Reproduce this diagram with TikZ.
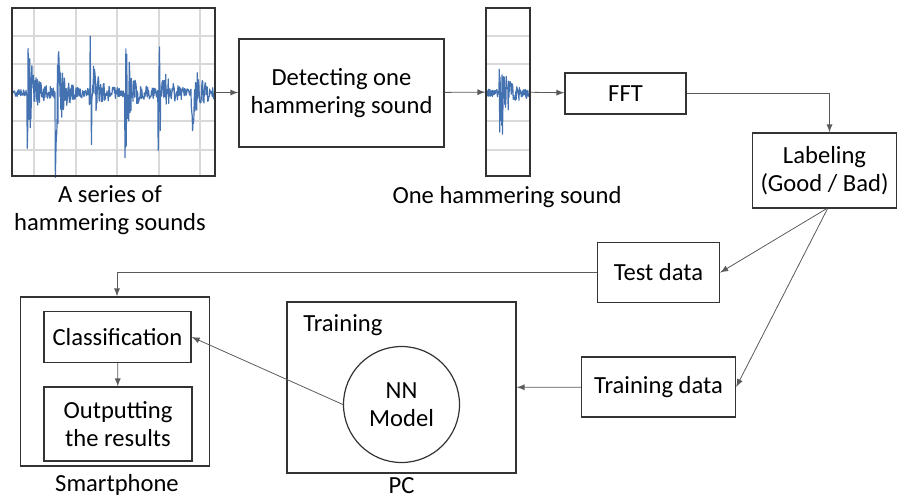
\documentclass[tikz,border=0pt]{standalone}
\usepackage{fontspec}
\setmainfont{Carlito}
\usepackage{tikz}
\usetikzlibrary{positioning, arrows, shapes}
\definecolor{wavecol}{RGB}{68,114,176}
\definecolor{gridcol}{RGB}{217,217,217}
\definecolor{linecol}{RGB}{90,90,90}

\tikzset{
  box/.style={draw=black!80, line width=0.7pt, rectangle, align=center, inner sep=0pt},
  lbl/.style={align=center, inner sep=0pt},
  conn/.style={draw=linecol, line width=0.4pt, ->, >=latex},
  wave/.style={draw=wavecol, line width=0.6pt, line join=round},
  grid line/.style={draw=gridcol, line width=0.6pt}
}

\begin{document}
\begin{tikzpicture}[x=0.5pt, y=-0.5pt, font=\fontsize{12.3}{14}\selectfont,
  declare function={burst(\x,\s,\a)=(\x>=\s)*(\a*exp(-abs(\x-\s)/3)+24*exp(-abs(\x-\s)/10));}]
\useasboundingbox (0,0) rectangle (898,500);

		% waveforms
		\foreach \gx in {34,76,117,159,200} \draw[grid line] (\gx,9) -- (\gx,175);
		\foreach \gy in {36,64,121,150} {
			\draw[grid line] (13,\gy) -- (214,\gy);
			\draw[grid line] (487,\gy) -- (529,\gy);
		}
		\pgfmathsetseed{11}
		\draw[wave] plot[domain=13:214, samples=480]
			(\x, {93 + rand*(4 + burst(\x,27,58) + burst(\x,55,70) + burst(\x,89,70)
			+ burst(\x,125,44) + burst(\x,158,44) + burst(\x,191,44))});
		\draw[wave] plot[domain=487:529, samples=110]
			(\x, {93 + rand*(4 + burst(\x,499,70))});
		\node[box, minimum width=101.5pt, minimum height=84pt] (w1) at (113.5,92) {};
		\node[box, minimum width=22pt, minimum height=84pt] (w2) at (508,92) {};

		% boxes
		\node[box, minimum width=102.5pt, minimum height=54pt] (detect) at (341.5,93) {Detecting one\\hammering sound};
		\node[box, minimum width=60.5pt, minimum height=20.5pt] (fft) at (625.5,93.5) {FFT};
		\node[box, minimum width=72pt, minimum height=37.5pt] (label) at (824.5,170.5) {Labeling\\(Good / Bad)};
		\node[box, minimum width=61pt, minimum height=30pt] (test) at (658.5,272.5) {Test data};
		\node[box, minimum width=77pt, minimum height=30pt] (train) at (658.5,387) {Training data};
		\node[box, minimum width=114.5pt, minimum height=85.5pt] (pc) at (401.5,387.5) {};
		\node[draw=black!80, line width=0.6pt, circle, minimum size=58pt, align=center, inner sep=0pt] (nn) at (401.5,404.5) {NN\\Model};
		\node[box, minimum width=94.5pt, minimum height=84.5pt] (phone) at (115,381.5) {};
		\node[box, minimum width=73.5pt, minimum height=25.5pt] (classif) at (117.5,337) {Classification};
		\node[box, minimum width=74pt, minimum height=37pt] (output) at (118,424) {Outputting\\the results};

		% texts
		\node[lbl] (w1text) at (110,210) {A series of\\hammering sounds};
		\node[lbl] (w2text) at (507,197) {One hammering sound};
		\node[lbl, anchor=west] (pctext) at (303,325) {Training};
		\node[lbl] (pcname) at (401.5,486) {PC};
		\node[lbl] (phonename) at (117,485) {Smartphone};

		% connectors
		\draw[conn] (w1) -- (detect);
		\draw[conn] (detect) -- (w2);
		\draw[conn] (w2) -- (fft);
		\draw[conn] (fft.east) -| ([xshift=2.5pt]label.north);
		\draw[conn] ([xshift=1pt]label.south) -- (test.east);
		\draw[conn] ([xshift=1.5pt]label.south) -- (train.east);
		\draw[conn] (test.west) -| ([xshift=1pt]phone.north);
		\draw[conn] (train) -- (pc);
		\draw[conn] (nn.west) -- (classif.east);
		\draw[conn] (classif) -- (output);
	\end{tikzpicture}
\end{document}
